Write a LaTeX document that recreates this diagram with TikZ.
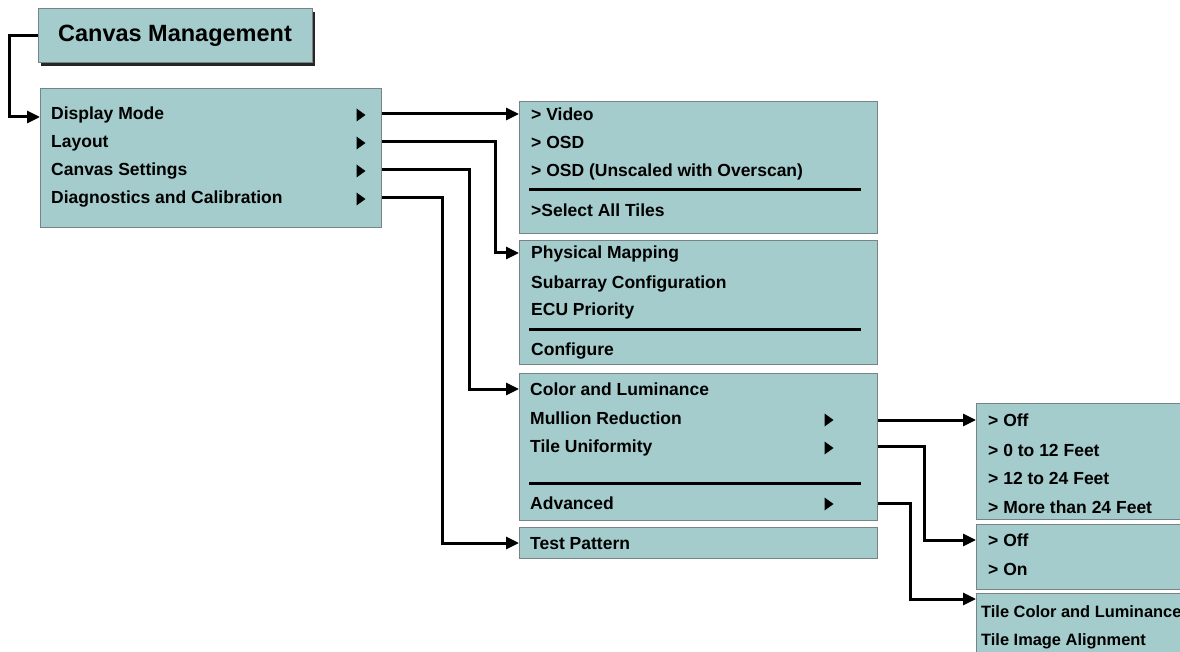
\documentclass[tikz,border=0pt]{standalone}
\usepackage{fontspec}
\setmainfont{Liberation Sans}
\usetikzlibrary{arrows.meta,shadows}
\definecolor{menufill}{RGB}{164,204,204}
\definecolor{menuedge}{RGB}{120,132,132}

\begin{document}
\begin{tikzpicture}[x=1pt,y=-1pt,
  box/.style={rectangle, draw=menuedge, line width=1pt, fill=menufill,
              anchor=north west, inner sep=0pt},
  item/.style={anchor=base west, inner sep=0pt, text height=12pt, text depth=0pt,
               font=\bfseries\fontsize{17.5}{21}\selectfont},
  small/.style={font=\bfseries\fontsize{16.4}{20}\selectfont},
  sep/.style={line width=3pt},
  link/.style={line width=3pt,->,>={Triangle[length=13pt,width=12pt]}},
  submark/.pic={\fill (-4.5,-6.5) -- (4.5,0) -- (-4.5,6.5) -- cycle;}]
  \useasboundingbox (0,0) rectangle (1180,652);
  \clip (0,0) rectangle (1180,652);

  % Title
  \node (title) [box, anchor=center, minimum width=274pt, minimum height=54pt,
                drop shadow={shadow xshift=3pt, shadow yshift=-3pt, fill=black!85, opacity=1},
                font=\bfseries\fontsize{23.5}{28}\selectfont] at (175,36) {Canvas Management};

  % Main menu
  \node (menu) [box, minimum width=341pt, minimum height=139pt] at (40,88) {};
  \node (mode)     [item] at (51,120) {Display Mode};
  \node (layout)   [item] at (51,148) {Layout};
  \node (settings) [item] at (51,176) {Canvas Settings};
  \node (diag)     [item] at (51,204) {Diagnostics and Calibration};
  \foreach \y in {115,143,171,199} \pic at (361,\y) {submark};

  % Display Mode
  \node (modebox) [box, minimum width=358pt, minimum height=132pt] at (519,101) {};
  \node (video) [item] at (531,121) {> Video};
  \node (osd)   [item] at (531,149) {> OSD};
  \node (osdu)  [item] at (531,177) {> OSD (Unscaled with Overscan)};
  \draw[sep] (529,190) -- (861,190);
  \node (tiles) [item] at (531,217) {>Select All Tiles};

  % Layout
  \node (layoutbox) [box, minimum width=358pt, minimum height=124pt] at (519,240) {};
  \node (physical)  [item] at (531,259) {Physical Mapping};
  \node (subarray)  [item] at (531,288) {Subarray Configuration};
  \node (ecu)       [item] at (531,316) {ECU Priority};
  \draw[sep] (529,329) -- (861,329);
  \node (configure) [item] at (531,355) {Configure};

  % Canvas Settings
  \node (settingsbox) [box, minimum width=358pt, minimum height=147pt] at (519,373) {};
  \node (color)    [item] at (530,395) {Color and Luminance};
  \node (mullion)  [item] at (530,424) {Mullion Reduction};
  \node (uniform)  [item] at (530,452) {Tile Uniformity};
  \draw[sep] (529,483) -- (861,483);
  \node (advanced) [item] at (530,509) {Advanced};
  \foreach \y in {420,448,504} \pic at (829,\y) {submark};

  % Diagnostics and Calibration
  \node (patternbox) [box, minimum width=358pt, minimum height=31pt] at (519,527) {};
  \node (pattern) [item] at (530,549) {Test Pattern};

  % Mullion Reduction
  \node (mullionbox) [box, minimum width=250pt, minimum height=116pt] at (976,403) {};
  \node (moff)  [item] at (988,426) {> Off};
  \node (m12)   [item] at (988,456) {> 0 to 12 Feet};
  \node (m24)   [item] at (988,484) {> 12 to 24 Feet};
  \node (mmore) [item] at (988,513) {> More than 24 Feet};

  % Tile Uniformity
  \node (uniformbox) [box, minimum width=250pt, minimum height=65pt] at (976,524) {};
  \node (uoff) [item] at (988,546) {> Off};
  \node (uon)  [item] at (988,575) {> On};

  % Advanced
  \node (advbox) [box, minimum width=250pt, minimum height=80pt] at (976,593) {};
  \node (tilecolor) [item, small] at (981,617) {Tile Color and Luminance};
  \node (tileimage) [item, small] at (981,645) {Tile Image Alignment};

  % Arrows
  \draw[link] (title.west) -- ++(-28,0) |- ([yshift=-3pt]mode -| menu.west);
  \draw[link] (mode -| menu.east) -- (mode -| modebox.west);
  \draw[link] (layout -| menu.east) -- ++(113,0) |- (physical -| layoutbox.west);
  \draw[link] (settings -| menu.east) -- ++(87,0) |- (color -| settingsbox.west);
  \draw[link] (diag -| menu.east) -- ++(60,0) |- (pattern -| patternbox.west);
  \draw[link] ([yshift=-2pt]mullion -| settingsbox.east) -- ([yshift=-2pt]mullion -| mullionbox.west);
  \draw[link] (uniform -| settingsbox.east) -- ++(46,0) |- (uoff -| uniformbox.west);
  \draw[link] (advanced -| settingsbox.east) -- ++(32,0) |- ([yshift=-6pt]advbox.north west);
\end{tikzpicture}
\end{document}
